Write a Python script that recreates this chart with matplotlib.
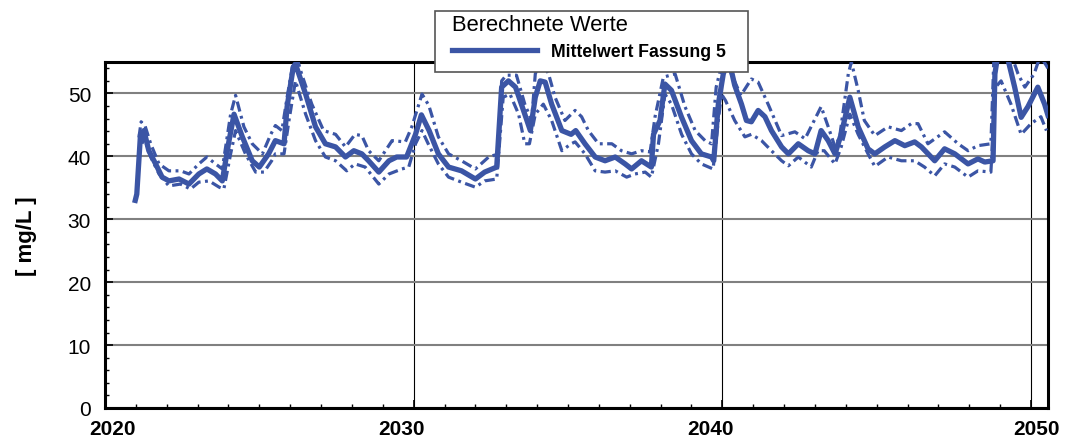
import matplotlib
matplotlib.use("Agg")
import matplotlib.pyplot as plt
import matplotlib.transforms as mtransforms
from matplotlib.patches import Rectangle
from matplotlib.ticker import MultipleLocator

plt.rcParams["font.family"] = ["Liberation Sans", "DejaVu Sans"]

# Mittelwert Fassung 5
mean_years = [
    2020.98, 2021.03, 2021.15, 2021.26, 2021.42, 2021.64, 2021.85, 2022.07,
    2022.40, 2022.72, 2023.04, 2023.30, 2023.58, 2023.80, 2024.00, 2024.18,
    2024.45, 2024.77, 2025.00, 2025.30, 2025.52, 2025.80, 2025.90, 2026.10,
    2026.17, 2026.50, 2026.82, 2027.14, 2027.47, 2027.79, 2028.06, 2028.32,
    2028.54, 2028.87, 2029.20, 2029.45, 2029.77, 2030.06, 2030.25, 2030.50,
    2030.80, 2031.13, 2031.55, 2032.00, 2032.30, 2032.69, 2032.85, 2033.07,
    2033.30, 2033.60, 2033.78, 2033.94, 2034.10, 2034.26, 2034.47, 2034.80,
    2035.10, 2035.25, 2035.55, 2035.88, 2036.20, 2036.53, 2036.85, 2037.06,
    2037.38, 2037.70, 2037.77, 2037.98, 2038.14, 2038.35, 2038.68, 2039.00,
    2039.32, 2039.65, 2039.72, 2039.87, 2040.03, 2040.20, 2040.40, 2040.62,
    2040.78, 2040.94, 2041.16, 2041.38, 2041.59, 2041.92, 2042.14, 2042.46,
    2042.78, 2043.00, 2043.20, 2043.43, 2043.65, 2043.85, 2044.13, 2044.40,
    2044.72, 2044.94, 2045.26, 2045.59, 2045.91, 2046.23, 2046.45, 2046.88,
    2047.20, 2047.53, 2047.96, 2048.28, 2048.50, 2048.77, 2048.83, 2048.95,
    2049.20, 2049.47, 2049.68, 2049.90, 2050.22, 2050.44, 2050.55,
]
mean_values = [
    33.0, 34.0, 43.5, 44.1, 40.9, 38.8, 36.7, 36.1,
    36.4, 35.6, 37.2, 38.0, 37.2, 36.1, 42.0, 46.7,
    43.1, 39.3, 38.3, 40.4, 42.5, 42.0, 47.9, 54.2,
    54.7, 49.9, 44.7, 42.0, 41.5, 39.9, 40.9, 40.4,
    39.3, 37.5, 39.3, 39.9, 39.9, 43.5, 46.6, 44.1,
    40.4, 38.3, 37.7, 36.4, 37.5, 38.3, 51.0, 52.0,
    51.0, 46.7, 44.1, 49.4, 52.0, 51.8, 48.3, 44.1,
    43.5, 44.1, 42.0, 39.9, 39.3, 39.9, 38.8, 38.0,
    39.3, 38.3, 43.5, 45.7, 51.5, 50.5, 46.2, 42.5,
    40.4, 39.9, 39.3, 48.3, 53.1, 55.6, 51.3, 48.3,
    45.7, 45.5, 47.3, 46.3, 44.1, 41.5, 40.4, 42.0,
    40.9, 40.4, 44.1, 42.5, 40.4, 43.5, 49.4, 44.7,
    41.2, 40.4, 41.5, 42.5, 41.7, 42.3, 41.5, 39.3,
    41.2, 40.4, 38.8, 39.6, 39.1, 39.3, 53.1, 57.0,
    56.5, 51.0, 46.2, 47.9, 51.0, 48.3, 46.5,
]

# upper dash-dot band
upper_years = [
    2021.10, 2021.17, 2021.30, 2021.48, 2021.75, 2022.07, 2022.45, 2022.72,
    2023.04, 2023.30, 2023.58, 2023.80, 2024.07, 2024.23, 2024.50, 2024.77,
    2025.10, 2025.37, 2025.52, 2025.73, 2025.90, 2026.07, 2026.20, 2026.37,
    2026.70, 2027.08, 2027.47, 2027.79, 2028.10, 2028.32, 2028.54, 2028.87,
    2029.30, 2029.73, 2029.94, 2030.27, 2030.49, 2030.80, 2031.13, 2031.55,
    2032.00, 2032.43, 2032.75, 2032.85, 2033.00, 2033.33, 2033.60, 2033.82,
    2033.94, 2034.12, 2034.37, 2034.58, 2034.90, 2035.23, 2035.44, 2035.66,
    2035.99, 2036.42, 2036.73, 2037.06, 2037.38, 2037.66, 2037.82, 2038.09,
    2038.47, 2038.79, 2039.12, 2039.44, 2039.65, 2039.80, 2040.05, 2040.30,
    2040.60, 2040.94, 2041.16, 2041.50, 2041.92, 2042.35, 2042.68, 2043.20,
    2043.43, 2043.65, 2043.80, 2044.08, 2044.18, 2044.40, 2044.60, 2044.94,
    2045.37, 2045.80, 2046.12, 2046.34, 2046.66, 2047.20, 2047.64, 2047.96,
    2048.28, 2048.70, 2048.80, 2049.30, 2049.58, 2049.80, 2050.10, 2050.30,
    2050.55,
]
upper_values = [
    43.0, 45.5, 44.8, 42.0, 38.8, 37.7, 37.7, 37.2,
    38.8, 39.9, 38.8, 38.0, 46.7, 49.7, 44.7, 42.0,
    40.4, 43.5, 44.9, 44.1, 49.4, 54.2, 56.0, 53.1,
    48.3, 44.1, 43.5, 41.5, 43.5, 43.3, 40.9, 39.3,
    42.5, 42.3, 44.7, 49.9, 48.1, 43.1, 40.4, 39.3,
    38.0, 39.9, 40.4, 52.0, 52.9, 52.9, 48.3, 45.7,
    53.1, 55.5, 53.1, 49.4, 45.7, 47.3, 46.3, 44.1,
    42.0, 42.0, 40.9, 40.4, 40.9, 40.7, 46.3, 52.6,
    53.1, 47.9, 44.1, 42.5, 42.0, 51.0, 56.0, 53.0,
    49.7, 52.3, 51.8, 48.1, 43.3, 43.9, 42.8, 47.9,
    44.7, 41.5, 43.1, 53.1, 55.0, 50.5, 45.7, 43.3,
    44.7, 44.1, 45.2, 45.2, 42.0, 43.9, 42.0, 40.9,
    41.7, 42.0, 56.0, 57.0, 53.1, 51.0, 53.1, 56.0,
    54.0,
]

# lower dash-dot band
lower_years = [
    2021.20, 2021.26, 2021.48, 2021.75, 2022.07, 2022.45, 2022.77, 2023.04,
    2023.37, 2023.70, 2023.85, 2024.07, 2024.23, 2024.55, 2024.88, 2025.15,
    2025.40, 2025.52, 2025.80, 2025.96, 2026.17, 2026.50, 2026.82, 2027.14,
    2027.47, 2027.83, 2028.10, 2028.43, 2028.87, 2029.20, 2029.62, 2029.84,
    2030.06, 2030.27, 2030.49, 2030.80, 2031.13, 2031.55, 2032.00, 2032.30,
    2032.69, 2032.90, 2033.12, 2033.40, 2033.60, 2033.75, 2033.94, 2034.20,
    2034.47, 2034.80, 2035.10, 2035.23, 2035.55, 2035.88, 2036.20, 2036.53,
    2036.90, 2037.17, 2037.50, 2037.70, 2037.93, 2038.14, 2038.35, 2038.68,
    2039.00, 2039.32, 2039.70, 2039.87, 2039.97, 2040.10, 2040.40, 2040.73,
    2040.94, 2041.27, 2041.59, 2041.92, 2042.14, 2042.46, 2042.88, 2043.10,
    2043.30, 2043.65, 2043.85, 2044.13, 2044.40, 2044.72, 2044.94, 2045.37,
    2045.80, 2046.23, 2046.55, 2046.88, 2047.20, 2047.53, 2047.96, 2048.28,
    2048.70, 2048.85, 2049.03, 2049.35, 2049.68, 2050.00, 2050.32, 2050.50,
]
lower_values = [
    42.0, 43.1, 39.9, 37.2, 35.3, 35.6, 34.8, 35.9,
    36.1, 35.1, 34.8, 40.4, 44.1, 40.4, 37.5, 37.5,
    39.3, 40.4, 40.4, 45.7, 52.0, 46.7, 42.5, 39.9,
    39.3, 37.7, 38.8, 38.3, 35.6, 37.2, 38.0, 38.3,
    42.0, 44.1, 41.8, 38.8, 36.7, 35.9, 35.1, 36.1,
    36.4, 49.4, 49.9, 46.7, 42.0, 42.0, 46.7, 48.3,
    45.7, 40.9, 42.0, 42.3, 40.4, 37.7, 37.5, 37.7,
    36.7, 37.2, 37.5, 36.7, 42.0, 49.9, 48.3, 43.5,
    40.4, 38.8, 38.0, 45.7, 49.9, 48.9, 45.7, 43.1,
    43.5, 42.5, 40.9, 39.3, 38.5, 39.9, 38.3, 40.9,
    40.9, 38.8, 41.5, 46.7, 43.5, 40.4, 38.4, 39.9,
    39.3, 39.3, 38.3, 36.9, 38.8, 38.3, 36.7, 37.7,
    37.5, 51.0, 52.0, 48.3, 43.5, 45.2, 46.3, 44.1,
]

x_ticks = [2020, 2030, 2040, 2050]
x_tick_labels = ["2020", "2030", "2040", "2050"]
y_ticks = [0, 10, 20, 30, 40, 50]

blue = "#3b55a5"

fig = plt.figure(figsize=(10.65, 4.39), dpi=100)
ax = fig.add_axes([105 / 1065, 30 / 439, 943 / 1065, 346 / 439])

ax.plot(upper_years, upper_values, color=blue, lw=2.3,
        dashes=(3.2, 1.4, 0.9, 1.4), zorder=3)
ax.plot(lower_years, lower_values, color=blue, lw=2.3,
        dashes=(3.2, 1.4, 0.9, 1.4), zorder=3)
main_line, = ax.plot(mean_years, mean_values, color=blue, lw=3.8,
                     solid_joinstyle="round", zorder=4)

ax.set_xlim(2020, 2050.55)
ax.set_ylim(0, 55)

ax.set_xticks(x_ticks)
ax.set_xticklabels(x_tick_labels)
ax.set_yticks(y_ticks)
ax.xaxis.set_minor_locator(MultipleLocator(1))
ax.yaxis.set_minor_locator(MultipleLocator(2))

ax.set_axisbelow(True)
ax.yaxis.grid(True, color="#808080", lw=1.5)
ax.xaxis.grid(True, color="black", lw=0.8)

ax.tick_params(which="major", direction="in", length=6, width=1.2,
               labelsize=15, pad=8)
ax.tick_params(which="minor", direction="in", length=3, width=1.0)
ax.tick_params(axis="y", pad=10)

for spine in ax.spines.values():
    spine.set_linewidth(2.2)
    spine.set_color("black")

offsets = [7, -12, -12, 5]
for label, dx in zip(ax.get_xticklabels(), offsets):
    label.set_fontweight("bold")
    label.set_transform(label.get_transform()
                        + mtransforms.ScaledTranslation(dx / 100, 0, fig.dpi_scale_trans))

ax.set_ylabel("[ mg/L ]", fontsize=16, fontweight="bold", labelpad=22)

# legend box sits over the top spine
box = Rectangle((435 / 1065, 1 - 73 / 439), 313 / 1065, 61 / 439,
                transform=fig.transFigure, facecolor="white",
                edgecolor="#555555", lw=1.2, zorder=4)
fig.patches.append(box)

leg = fig.legend(
    handles=[main_line],
    labels=["Mittelwert Fassung 5"],
    title="Berechnete Werte",
    loc="upper left",
    bbox_to_anchor=(452 / 1065, 1 - 15 / 439),
    borderaxespad=0,
    borderpad=0,
    frameon=False,
    prop={"weight": "bold", "size": 12.7},
    title_fontsize=15.8,
    handlelength=4.8,
    handletextpad=0.8,
    alignment="left",
    labelspacing=0.45,
)
leg.set_zorder(5)

fig.savefig("out.png", dpi=100)
plt.close(fig)
